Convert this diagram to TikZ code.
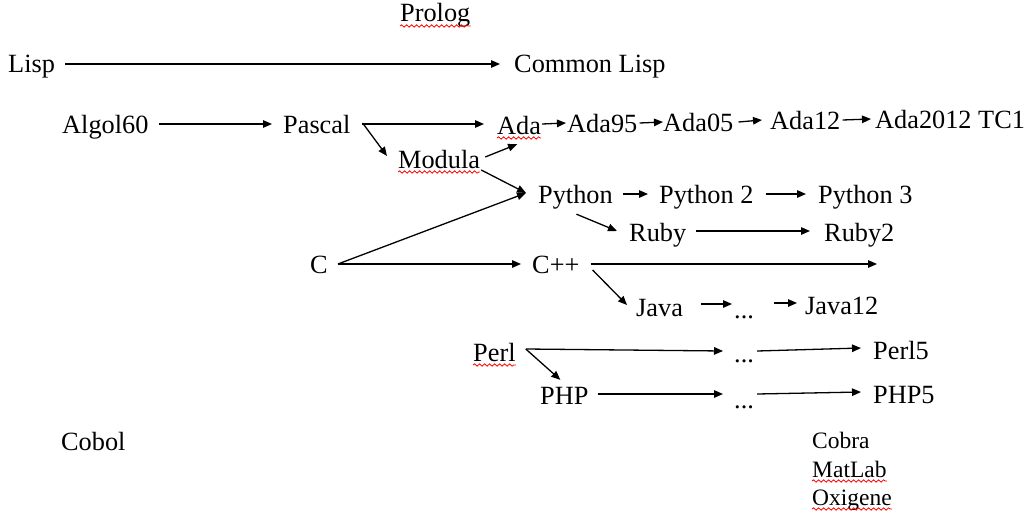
\documentclass[tikz,border=0pt]{standalone}
\usepackage{fontspec}
\setmainfont{Liberation Serif}
\usetikzlibrary{arrows.meta,calc,decorations.pathmorphing}
\begin{document}
\begin{tikzpicture}[x=1pt,y=-1pt,
  lang/.style={anchor=base west,inner sep=0pt,text height=18pt,text depth=0pt,
    font=\fontsize{26.3}{30}\selectfont},
  small/.style={anchor=base west,inner sep=0pt,text height=16pt,text depth=0pt,
    font=\fontsize{23.5}{27}\selectfont},
  arr/.style={line width=1.3pt,-{Triangle[length=9pt,width=7.5pt]}},
  squig/.style={red,line width=0.8pt,decorate,
    decoration={snake,amplitude=1.2pt,segment length=5pt}}]
\useasboundingbox (0,0) rectangle (1035,519);

% nodes
\node[lang] (prolog)  at (400,22)  {Prolog};
\node[lang] (lisp)    at (8,73)    {Lisp};
\node[lang] (clisp)   at (514,73)  {Common Lisp};
\node[lang] (algol)   at (62,133)  {Algol60};
\node[lang] (pascal)  at (283,133) {Pascal};
\node[lang] (ada)     at (497,134) {Ada};
\node[lang] (ada95)   at (567,132) {Ada95};
\node[lang] (ada05)   at (663,131) {Ada05};
\node[lang] (ada12)   at (770,129) {Ada12};
\node[lang] (ada2012) at (875,128) {Ada2012 TC1};
\node[lang] (modula)  at (398,168) {Modula};
\node[lang] (python)  at (538,203) {Python};
\node[lang] (python2) at (659,203) {Python 2};
\node[lang] (python3) at (818,203) {Python 3};
\node[lang] (ruby)    at (629,241) {Ruby};
\node[lang] (ruby2)   at (824,241) {Ruby2};
\node[lang] (c)       at (310,273) {C};
\node[lang] (cpp)     at (532,273) {C++};
\node[lang] (java)    at (636,316) {Java};
\node[lang] (dotsa)   at (734,318) {...};
\node[lang] (java12)  at (805,314) {Java12};
\node[lang] (perl)    at (473,361) {Perl};
\node[lang] (dotsb)   at (734,362) {...};
\node[lang] (perl5)   at (873,359) {Perl5};
\node[lang] (php)     at (540,404) {PHP};
\node[lang] (dotsc)   at (734,408) {...};
\node[lang] (php5)    at (873,403) {PHP5};
\node[lang] (cobol)   at (61,450)  {Cobol};
\node[small] (cobra)   at (812,448) {Cobra};
\node[small] (matlab)  at (812,477) {MatLab};
\node[small] (oxigene) at (812,505) {Oxigene};
\coordinate (cppend) at (877,264);

% spell-check squiggles
\foreach \n in {prolog,ada,modula,perl,matlab,oxigene}
  \draw[squig] ($(\n.base west)+(0,4)$) -- ($(\n.base east)+(0,4)$);

% connectors
\draw[arr] ($(lisp.east)+(10,0)$) -- ($(clisp.west)+(-14,0)$);
\draw[arr] ($(algol.east)+(10,0)$) -- ($(pascal.west)+(-11,0)$);
\draw[arr] ($(pascal.east)+(11,0)$) -- ($(ada.west |- pascal.west)+(-13,0)$);
\draw[arr] ($(pascal.east)+(12,-1)$) -- ($(modula.west)+(-11,-3)$);
\draw[arr] ($(modula.east)+(5,-2)$) -- ($(ada.south)+(-2,10)$);
\draw[arr] ($(modula.east)+(1,11)$) -- ($(python.west)+(-12,-1)$);
\draw[arr] ($(ada.east)+(1,-1)$) -- ($(ada95.west)+(-1,0)$);
\draw[arr] ($(ada95.east)+(2,0)$) -- ($(ada05.west)+(0,0)$);
\draw[arr] ($(ada05.east)+(5,0)$) -- ($(ada12.west)+(-8,0)$);
\draw[arr] ($(ada12.east)+(2,0)$) -- ($(ada2012.west)+(-4,0)$);
\draw[arr] ($(c.east)+(10,0)$) -- ($(python.west)+(-12,-1)$);
\draw[arr] ($(c.east)+(10,0)$) -- ($(cpp.west)+(-11,0)$);
\draw[arr] ($(python.east)+(10,0)$) -- ($(python2.west)+(-11,0)$);
\draw[arr] ($(python2.east)+(12,0)$) -- ($(python3.west)+(-12,0)$);
\draw[arr] ($(python.south)+(1,11)$) -- ($(ruby.west)+(-12,-1)$);
\draw[arr] ($(ruby.east)+(10,-1)$) -- ($(ruby2.west)+(-14,-1)$);
\draw[arr] ($(cpp.east)+(11,0)$) -- (cppend);
\draw[arr] ($(cpp.east)+(13,6)$) -- ($(java.west)+(-9,-2)$);
\draw[arr] ($(java.east)+(18,-3)$) -- ($(dotsa.west)+(-2,-5)$);
\draw[arr] ($(dotsa.east)+(20,-6)$) -- ($(java12.west)+(-8,-2)$);
\draw[arr] ($(perl.east)+(10,-3)$) -- ($(dotsb.west)+(-11,-2)$);
\draw[arr] ($(perl.east)+(10,-3)$) -- ($(php.north)+(-4,-6)$);
\draw[arr] ($(dotsb.east)+(3,-2)$) -- ($(perl5.west)+(-12,-2)$);
\draw[arr] ($(php.east)+(9,-1)$) -- ($(dotsc.west)+(-11,-5)$);
\draw[arr] ($(dotsc.east)+(3,-5)$) -- ($(php5.west)+(-12,-2)$);
\end{tikzpicture}
\end{document}
